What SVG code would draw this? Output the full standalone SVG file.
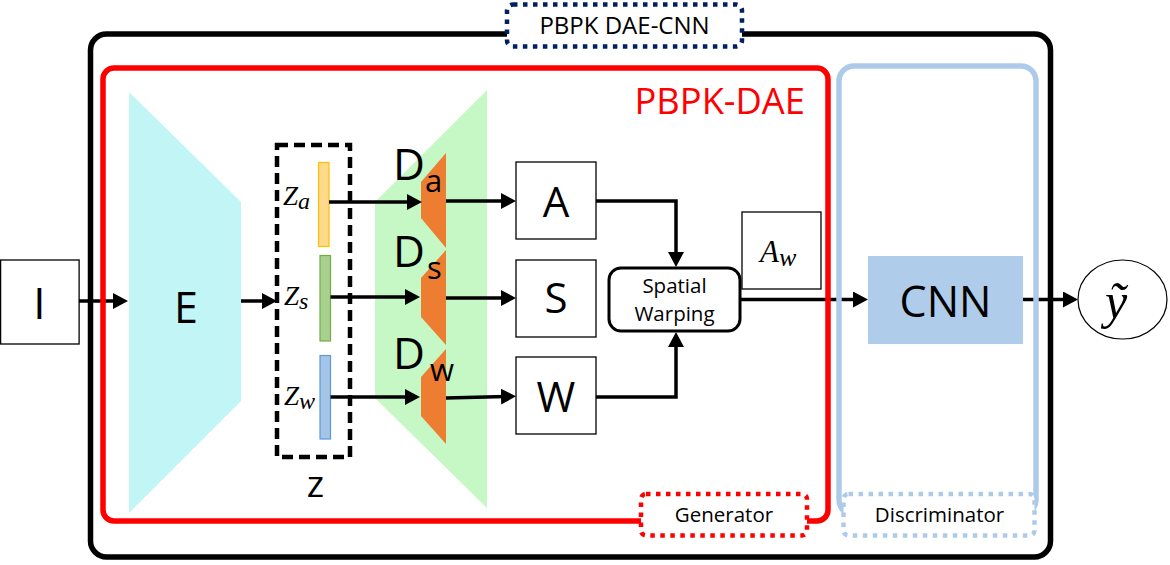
<svg xmlns="http://www.w3.org/2000/svg" width="1170" height="565" viewBox="0 0 1170 565">
<defs>
<style>
.sans{font-family:"Open Sans","Noto Sans","DejaVu Sans",sans-serif;}
.math{font-family:"Liberation Serif","DejaVu Serif",serif;font-style:italic;}
.box{fill:#fff;stroke:#000;stroke-width:1.3;}
.conn{fill:none;stroke:#000;stroke-width:3.5;}
.frame{fill:none;stroke-width:5.5;}
.dot{fill:#fff;stroke-width:4.5;stroke-dasharray:4.5 5.5;}
</style>
<marker id="ah" viewBox="0 0 15 16" refX="5" refY="8" markerWidth="15" markerHeight="16" markerUnits="userSpaceOnUse" orient="auto">
<path d="M0,0 L15,8 L0,16 z" fill="#000"/>
</marker>
</defs>
<rect width="1170" height="565" fill="#fff"/>

<g id="encoder">
<polygon points="129,92 241,202 241,401 129,513" fill="#C2F5F5"/>
<text class="sans" x="186" y="323" font-size="43" text-anchor="middle">E</text>
</g>
<g id="decoder-bg">
<polygon points="375,202 487,90 487,508 375,398" fill="#C6F8C6"/>
</g>

<g id="input">
<rect class="box" x="0.6" y="260" width="78.5" height="84"/>
<text class="sans" x="39.5" y="319" font-size="44" text-anchor="middle">I</text>
</g>

<g id="z">
<rect x="277" y="145" width="73" height="312" fill="none" stroke="#000" stroke-width="4.5" stroke-dasharray="11 6"/>
<text class="sans" x="315.5" y="497" font-size="37" text-anchor="middle">z</text>
</g>
<g id="za">
<rect x="318.5" y="162.5" width="10.5" height="84" fill="#FFD98C" stroke="#FFC000" stroke-width="1.2"/>
<text class="math" x="283" y="205" font-size="27">Z<tspan font-size="24" dy="4">a</tspan></text>
</g>
<g id="zs">
<rect x="320" y="255.5" width="10.5" height="85.5" fill="#A9D18E" stroke="#70AD47" stroke-width="1.2"/>
<text class="math" x="284" y="305" font-size="27">Z<tspan font-size="24" dy="4">s</tspan></text>
</g>
<g id="zw">
<rect x="320" y="355.5" width="10.5" height="83.5" fill="#A4C4E8" stroke="#5B9BD5" stroke-width="1.2"/>
<text class="math" x="284" y="405" font-size="27">Z<tspan font-size="24" dy="4">w</tspan></text>
</g>

<g id="Da">
<polygon points="421,182 446,153 446,248 421,218" fill="#ED7D31"/>
<text class="sans" x="393" y="180" font-size="44">D</text>
<text class="sans" x="425" y="192" font-size="31">a</text>
</g>
<g id="Ds">
<polygon points="421,278 446,250 446,345 421,317" fill="#ED7D31"/>
<text class="sans" x="393" y="267" font-size="44">D</text>
<text class="sans" x="427" y="279" font-size="31">s</text>
</g>
<g id="Dw">
<polygon points="421,377 446,349 446,444 421,416" fill="#ED7D31"/>
<text class="sans" x="393" y="369" font-size="44">D</text>
<text class="sans" x="430" y="381" font-size="31">w</text>
</g>

<g id="A">
<rect class="box" x="516" y="162" width="80" height="77"/>
<text class="sans" x="556" y="217" font-size="42" text-anchor="middle">A</text>
</g>
<g id="S">
<rect class="box" x="516" y="260" width="80" height="77"/>
<text class="sans" x="556" y="313" font-size="42" text-anchor="middle">S</text>
</g>
<g id="W">
<rect class="box" x="516" y="357" width="80" height="77"/>
<text class="sans" x="556" y="412" font-size="42" text-anchor="middle">W</text>
</g>

<g id="warp">
<rect x="609" y="268" width="131" height="63" rx="12" fill="#fff" stroke="#000" stroke-width="3"/>
<text class="sans" x="674.5" y="293" font-size="20.5" text-anchor="middle">Spatial</text>
<text class="sans" x="674.5" y="321" font-size="20.5" text-anchor="middle">Warping</text>
</g>
<g id="Aw">
<rect class="box" x="742" y="212" width="79" height="77"/>
<text class="math" x="760" y="262" font-size="31">A<tspan font-size="26" dy="4">w</tspan></text>
</g>

<g id="cnn">
<rect x="868" y="256" width="155" height="88" fill="#AFCDEA"/>
<text class="sans" x="945.5" y="317" font-size="43" text-anchor="middle">CNN</text>
</g>
<g id="output">
<ellipse cx="1122.5" cy="299.5" rx="44.5" ry="39.5" fill="#fff" stroke="#000" stroke-width="1.2"/>
<text class="math" x="1116" y="318" font-size="50" text-anchor="middle">ỹ</text>
</g>

<g id="connectors">
<path class="conn" d="M79,301 H118" marker-end="url(#ah)"/>
<path class="conn" d="M241,301 H267" marker-end="url(#ah)"/>
<path class="conn" d="M329,202 H412" marker-end="url(#ah)"/>
<path class="conn" d="M330.5,297 H410" marker-end="url(#ah)"/>
<path class="conn" d="M330.5,397 H410" marker-end="url(#ah)"/>
<path class="conn" d="M446,201 H506" marker-end="url(#ah)"/>
<path class="conn" d="M446,298 H506" marker-end="url(#ah)"/>
<path class="conn" d="M446,398 L506,396.5" marker-end="url(#ah)"/>
<path class="conn" d="M596,201 H676 V257" marker-end="url(#ah)"/>
<path class="conn" d="M596,397 H676 V342" marker-end="url(#ah)"/>
<path class="conn" d="M740,299.5 H858" marker-end="url(#ah)"/>
<path class="conn" d="M1023,299.5 H1068" marker-end="url(#ah)"/>
</g>

<g id="pbpk-dae-cnn">
<rect class="frame" x="90.5" y="34" width="960" height="523" rx="16" stroke="#000"/>
<rect class="dot" x="507" y="4.5" width="235" height="42" rx="6" stroke="#002060"/>
<text class="sans" x="624.5" y="34" font-size="24" text-anchor="middle">PBPK DAE-CNN</text>
</g>
<g id="pbpk-dae">
<rect class="frame" x="103" y="68" width="725" height="453" rx="11" stroke="#FF0000"/>
<text class="sans" x="805" y="114" font-size="36.3" text-anchor="end" fill="#FF0000">PBPK-DAE</text>
<rect class="dot" x="641" y="494" width="166" height="41.5" rx="5" stroke="#FF0000"/>
<text class="sans" x="724" y="522" font-size="20.5" text-anchor="middle">Generator</text>
</g>
<g id="discriminator">
<rect class="frame" x="839" y="66" width="197" height="449" rx="15" stroke="#ADCBE9"/>
<rect class="dot" x="843.5" y="494" width="191" height="41.5" rx="5" stroke="#ADCBE9"/>
<text class="sans" x="939.5" y="522" font-size="20.5" text-anchor="middle">Discriminator</text>
</g>
</svg>
